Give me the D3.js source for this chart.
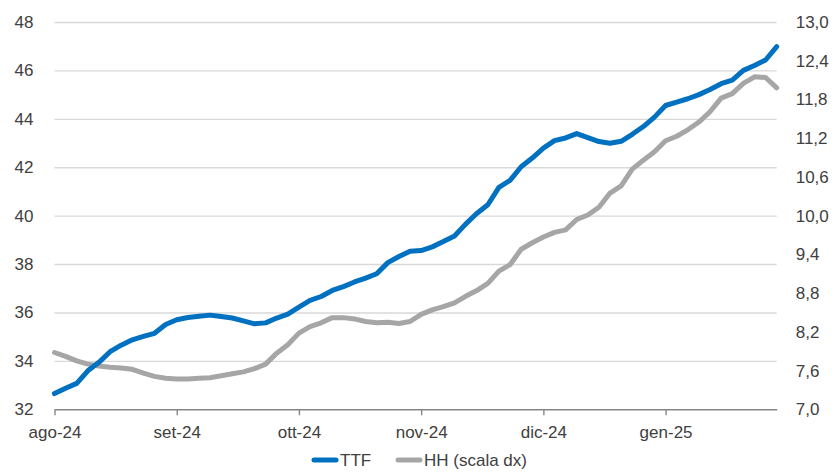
<!DOCTYPE html>
<html>
<head>
<meta charset="utf-8">
<script src="https://cdn.jsdelivr.net/npm/d3@7"></script>
<style>
  html, body { margin: 0; padding: 0; background: #fff; }
  svg { display: block; font-family: "Liberation Sans", Arial, sans-serif; }
</style>
</head>
<body>
<svg id="chart" width="837" height="474"></svg>
<script>
// Month tick labels and the point index where each month begins
const monthLabels = ["ago-24", "set-24", "ott-24", "nov-24", "dic-24", "gen-25"];
const monthIdx = [0, 11, 22, 33, 44, 55];

// TTF (EUR/MWh, left axis)
const ttf = [
  32.65, 32.87, 33.07, 33.59, 33.94, 34.38, 34.65, 34.87, 35.01, 35.14, 35.50,
  35.70, 35.79, 35.84, 35.89, 35.83, 35.77, 35.65, 35.53, 35.57, 35.77, 35.93,
  36.22, 36.50, 36.66, 36.91, 37.07, 37.26, 37.42, 37.60, 38.06, 38.31, 38.53,
  38.56, 38.71, 38.93, 39.16, 39.65, 40.09, 40.45, 41.17, 41.46, 42.02, 42.38,
  42.79, 43.10, 43.21, 43.39, 43.22, 43.06, 42.99, 43.07, 43.36, 43.68, 44.07,
  44.55, 44.69, 44.83, 45.00, 45.21, 45.45, 45.60, 46.00, 46.20, 46.43, 46.98
];

// Henry Hub (USD/MMBtu, right axis)
const hh = [
  7.88, 7.82, 7.75, 7.70, 7.67, 7.65, 7.64, 7.62, 7.56, 7.51, 7.48,
  7.47, 7.47, 7.48, 7.49, 7.52, 7.55, 7.58, 7.63, 7.70, 7.87, 8.00,
  8.18, 8.28, 8.34, 8.42, 8.42, 8.40, 8.36, 8.34, 8.35, 8.33, 8.36,
  8.47, 8.54, 8.59, 8.65, 8.75, 8.84, 8.95, 9.14, 9.24, 9.48, 9.58,
  9.67, 9.74, 9.78, 9.94, 10.01, 10.13, 10.35, 10.46, 10.72, 10.86, 10.99,
  11.16, 11.23, 11.33, 11.45, 11.61, 11.82, 11.89, 12.05, 12.15, 12.14, 11.98
];

const leftTicks = [32, 34, 36, 38, 40, 42, 44, 46, 48];
const rightTicks = [7.0, 7.6, 8.2, 8.8, 9.4, 10.0, 10.6, 11.2, 11.8, 12.4, 13.0];

const seriesNames = ["TTF", "HH (scala dx)"];
const colors = ["#0070C0", "#A6A6A6"];

const plot = { left: 54.5, right: 776.7, top: 22, bottom: 409.3 };
const svg = d3.select("#chart");
const textColor = "#404040";
const fontSize = "17px";
const fontFamily = "'Liberation Sans', Arial, sans-serif";

const x = d3.scaleLinear().domain([0, ttf.length - 1]).range([plot.left, plot.right]);
const yL = d3.scaleLinear().domain([32, 48]).range([plot.bottom, plot.top]);
const yR = d3.scaleLinear().domain([7, 13]).range([plot.bottom, plot.top]);

// Horizontal gridlines
const grid = svg.append("g")
  .attr("transform", `translate(${plot.left},0)`)
  .call(d3.axisLeft(yL).tickValues(leftTicks.slice(1))
    .tickSize(-(plot.right - plot.left)).tickFormat(""));
grid.select(".domain").remove();
grid.selectAll("line").attr("stroke", "#D9D9D9").attr("stroke-width", 1.4);

// Left axis labels
const axL = svg.append("g")
  .attr("transform", `translate(${plot.left},0)`)
  .call(d3.axisLeft(yL).tickValues(leftTicks).tickSize(0).tickPadding(21).tickFormat(d3.format("d")));
axL.select(".domain").remove();
axL.selectAll("text").attr("fill", textColor).style("font-size", fontSize).style("font-family", fontFamily);

// Right axis labels (decimal comma)
const axR = svg.append("g")
  .attr("transform", `translate(${plot.right},0)`)
  .call(d3.axisRight(yR).tickValues(rightTicks).tickSize(0).tickPadding(19)
    .tickFormat(d => d.toFixed(1).replace(".", ",")));
axR.select(".domain").remove();
axR.selectAll("text").attr("fill", textColor).style("font-size", fontSize).style("font-family", fontFamily);

// Bottom axis with month ticks
const axB = svg.append("g")
  .attr("transform", `translate(0,${plot.bottom})`)
  .call(d3.axisBottom(x).tickValues(monthIdx).tickSize(6).tickSizeOuter(0).tickPadding(11)
    .tickFormat((d, i) => monthLabels[i]));
axB.select(".domain").attr("stroke", "#868686").attr("stroke-width", 1.4);
axB.selectAll(".tick line").attr("stroke", "#868686").attr("stroke-width", 1.4);
axB.selectAll("text").attr("fill", textColor).style("font-size", fontSize).style("font-family", fontFamily);

// Series lines
const lineL = d3.line().x((d, i) => x(i)).y(d => yL(d));
const lineR = d3.line().x((d, i) => x(i)).y(d => yR(d));

svg.append("path").datum(hh)
  .attr("d", lineR).attr("fill", "none")
  .attr("stroke", colors[1]).attr("stroke-width", 5)
  .attr("stroke-linejoin", "round").attr("stroke-linecap", "round");

svg.append("path").datum(ttf)
  .attr("d", lineL).attr("fill", "none")
  .attr("stroke", colors[0]).attr("stroke-width", 5)
  .attr("stroke-linejoin", "round").attr("stroke-linecap", "round");

// Legend
const legend = svg.append("g").attr("transform", "translate(0,460)");
const legendX = [314, 398];
seriesNames.forEach((name, i) => {
  const g = legend.append("g").attr("transform", `translate(${legendX[i]},0)`);
  g.append("line").attr("x1", 0).attr("x2", 22).attr("y1", 0).attr("y2", 0)
    .attr("stroke", colors[i]).attr("stroke-width", 5).attr("stroke-linecap", "round");
  g.append("text").attr("x", 26).attr("y", 0).attr("dy", "0.35em")
    .attr("fill", textColor).style("font-size", fontSize).text(name);
});
</script>
</body>
</html>
